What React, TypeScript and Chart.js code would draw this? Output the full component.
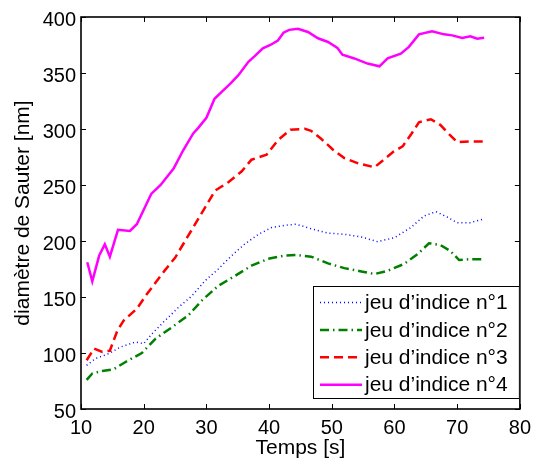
import React, { useEffect, useRef } from 'react';
import { Chart, registerables } from 'chart.js';

Chart.register(...registerables);

// ---- data ----
const seriesLabels = ['jeu d’indice n°1', 'jeu d’indice n°2', 'jeu d’indice n°3', 'jeu d’indice n°4'];

const s1X = [10.9, 12.3, 14.4, 16.3, 18.7, 20, 21.3, 23.4, 25.6, 27.7, 29.8, 31.9, 34, 36.1, 38.3, 40.4, 42.5, 44.3, 46.7, 49.4, 52, 54.7, 57.3, 60, 62.6, 64.7, 66.6, 68.4, 70, 72.1, 74];
const s1Y = [89, 95, 99.4, 105.3, 109.8, 108.3, 117, 129, 141, 151, 164.6, 175, 186.8, 197.2, 206, 212, 214, 215, 211, 207, 206, 203.6, 199.4, 203, 212, 222.3, 226.2, 221.4, 216.4, 216.4, 219.3];

const s2X = [10.9, 11.8, 13.4, 15.2, 17.1, 19.7, 21.9, 24.5, 27.1, 29.3, 31.9, 34.6, 37.2, 39.8, 42.5, 44.3, 46.7, 49.4, 52, 54.7, 56.8, 58.9, 61.5, 63.7, 65.5, 67.3, 68.9, 70.3, 72.1, 74.2];
const s2Y = [76, 81.7, 84, 85.5, 92, 100, 112.8, 123, 133.5, 147, 160, 169, 178, 184, 187, 187.5, 186, 180, 175.8, 172.8, 170.5, 173.4, 179.4, 188.3, 198, 196.5, 191.2, 183, 183.8, 183.8];

const s3X = [10.9, 12.1, 13.4, 14.6, 15.8, 16.8, 18.9, 20.3, 21.9, 23.4, 25, 26.6, 28.2, 29.8, 31.4, 33.5, 35.6, 37.2, 39.6, 41.4, 43.4, 45.7, 46.7, 48.3, 50.2, 52, 54.1, 56.8, 58.3, 59.9, 61.3, 62.6, 63.9, 65.8, 67.3, 68.7, 70, 72.1, 74.3];
const s3Y = [93.5, 104, 101, 102, 120, 129, 139.4, 151, 163, 174, 185, 200, 215, 230, 245, 252.5, 262, 272.6, 277, 290, 299.3, 300.2, 298.4, 291.3, 281.5, 274, 269.6, 265.8, 272.6, 280, 284.5, 294.8, 306, 308.7, 303.7, 295.4, 288.3, 288.9, 288.9];

const s4X = [11, 11.8, 12.9, 13.8, 14.6, 15.9, 17.8, 18.9, 21.2, 22.7, 24.8, 26.3, 27.9, 28.7, 30, 31.3, 32.4, 33.9, 35.1, 36.7, 37.7, 39, 40.2, 41.4, 42.3, 43.2, 44.6, 46.2, 47.8, 49.4, 50.9, 51.7, 53.6, 55.7, 57.6, 58.9, 61, 62.3, 63.9, 66, 67.9, 69.2, 70.8, 72.1, 73.2, 74.3];
const s4Y = [181, 164, 187, 197, 186, 210, 209, 215, 242, 250, 265, 281, 296, 301, 310, 327, 333, 341, 348, 360, 365, 372, 375, 379, 386, 388.5, 389.5, 386.6, 381, 377.7, 372.4, 366.4, 363, 358.4, 356, 363, 367.3, 373.3, 384.5, 387.2, 384.5, 383.6, 381.3, 382.7, 380.6, 381.5];

const xTickValues = [10, 20, 30, 40, 50, 60, 70, 80];
const yTickValues = [50, 100, 150, 200, 250, 300, 350, 400];
const xTitle = 'Temps [s]';
const yTitle = 'diamètre de Sauter [nm]';

const FONT = '"Liberation Sans", Arial, Helvetica, sans-serif';

function zip(xs: number[], ys: number[]) {
  return xs.map((x, i) => ({ x, y: ys[i] }));
}

const frameAndTicks = {
  id: 'frameAndTicks',
  afterDatasetsDraw(chart: any) {
    const { ctx, chartArea: a, scales } = chart;
    const tl = 5;
    ctx.save();
    ctx.strokeStyle = '#000';
    ctx.lineWidth = 1;
    ctx.beginPath();
    scales.x.ticks.forEach((t: any) => {
      const px = Math.round(scales.x.getPixelForValue(t.value)) + 0.5;
      ctx.moveTo(px, a.bottom);
      ctx.lineTo(px, a.bottom - tl);
      ctx.moveTo(px, a.top);
      ctx.lineTo(px, a.top + tl);
    });
    scales.y.ticks.forEach((t: any) => {
      const py = Math.round(scales.y.getPixelForValue(t.value)) + 0.5;
      ctx.moveTo(a.left, py);
      ctx.lineTo(a.left + tl, py);
      ctx.moveTo(a.right, py);
      ctx.lineTo(a.right - tl, py);
    });
    ctx.stroke();
    ctx.lineWidth = 1.6;
    ctx.strokeRect(a.left, a.top, a.right - a.left, a.bottom - a.top);
    ctx.restore();
  },
};

const innerLegend = {
  id: 'innerLegend',
  afterDraw(chart: any) {
    const { ctx, chartArea: a } = chart;
    const boxL = a.left + 232;
    const boxT = a.top + 269;
    const boxR = a.right;
    const boxB = a.bottom - 10;
    ctx.save();
    ctx.fillStyle = '#fff';
    ctx.fillRect(boxL, boxT, boxR - boxL, boxB - boxT);
    ctx.strokeStyle = '#000';
    ctx.lineWidth = 1;
    ctx.strokeRect(boxL + 0.5, boxT + 0.5, boxR - boxL - 1, boxB - boxT - 1);
    ctx.font = `21px ${FONT}`;
    ctx.textBaseline = 'middle';
    ctx.textAlign = 'left';
    chart.data.datasets.forEach((ds: any, i: number) => {
      const y = boxT + 16.5 + i * 27.4;
      ctx.save();
      ctx.strokeStyle = ds.borderColor;
      ctx.lineWidth = ds.borderWidth;
      ctx.setLineDash(ds.borderDash || []);
      ctx.beginPath();
      ctx.moveTo(boxL + 7, y);
      ctx.lineTo(boxL + 49, y);
      ctx.stroke();
      ctx.restore();
      ctx.fillStyle = '#000';
      ctx.fillText(ds.label, boxL + 52, y + 1);
    });
    ctx.restore();
  },
};

export default function App() {
  const ref = useRef<HTMLCanvasElement>(null);
  useEffect(() => {
    if (!ref.current) return;
    const chart = new Chart(ref.current, {
      type: 'line',
      data: {
        datasets: [
          { label: seriesLabels[0], data: zip(s1X, s1Y), borderColor: '#0000ff', borderWidth: 1.5, borderDash: [1, 3], pointRadius: 0, fill: false, tension: 0 },
          { label: seriesLabels[1], data: zip(s2X, s2Y), borderColor: '#008000', borderWidth: 2.5, borderDash: [9, 4, 1.5, 4], pointRadius: 0, fill: false, tension: 0 },
          { label: seriesLabels[2], data: zip(s3X, s3Y), borderColor: '#ff0000', borderWidth: 2.5, borderDash: [9, 5], pointRadius: 0, fill: false, tension: 0 },
          { label: seriesLabels[3], data: zip(s4X, s4Y), borderColor: '#ff00ff', borderWidth: 2.5, pointRadius: 0, fill: false, tension: 0 },
        ],
      },
      options: {
        animation: false,
        responsive: false,
        devicePixelRatio: 1,
        layout: { padding: { left: 0, top: 15, right: 15, bottom: 0 } },
        plugins: { legend: { display: false }, tooltip: { enabled: false } },
        scales: {
          x: {
            type: 'linear',
            min: xTickValues[0],
            max: xTickValues[xTickValues.length - 1],
            afterBuildTicks: (s: any) => { s.ticks = xTickValues.map((v) => ({ value: v })); },
            afterFit: (s: any) => { s.height = 57; },
            grid: { display: false, drawTicks: false },
            border: { display: false },
            ticks: { color: '#000', font: { family: FONT, size: 20 }, padding: 7, maxRotation: 0 },
            title: { display: true, text: xTitle, color: '#000', font: { family: FONT, size: 21 }, padding: { top: 0, bottom: 5 } },
          },
          y: {
            type: 'linear',
            min: yTickValues[0],
            max: yTickValues[yTickValues.length - 1],
            afterBuildTicks: (s: any) => { s.ticks = yTickValues.map((v) => ({ value: v })); },
            afterFit: (s: any) => { s.width = 81; },
            grid: { display: false, drawTicks: false },
            border: { display: false },
            ticks: { color: '#000', font: { family: FONT, size: 20 }, padding: 5, labelOffset: 3 },
            title: { display: true, text: yTitle, color: '#000', font: { family: FONT, size: 21 }, padding: { top: 11, bottom: 0 } },
          },
        },
      },
      plugins: [frameAndTicks, innerLegend],
    } as any);
    return () => chart.destroy();
  }, []);
  return (
    <div style={{ position: 'absolute', left: 0, top: 0, width: 538, height: 466, background: '#fff' }}>
      <canvas ref={ref} width={538} height={466} style={{ width: 538, height: 466, display: 'block' }} />
    </div>
  );
}
